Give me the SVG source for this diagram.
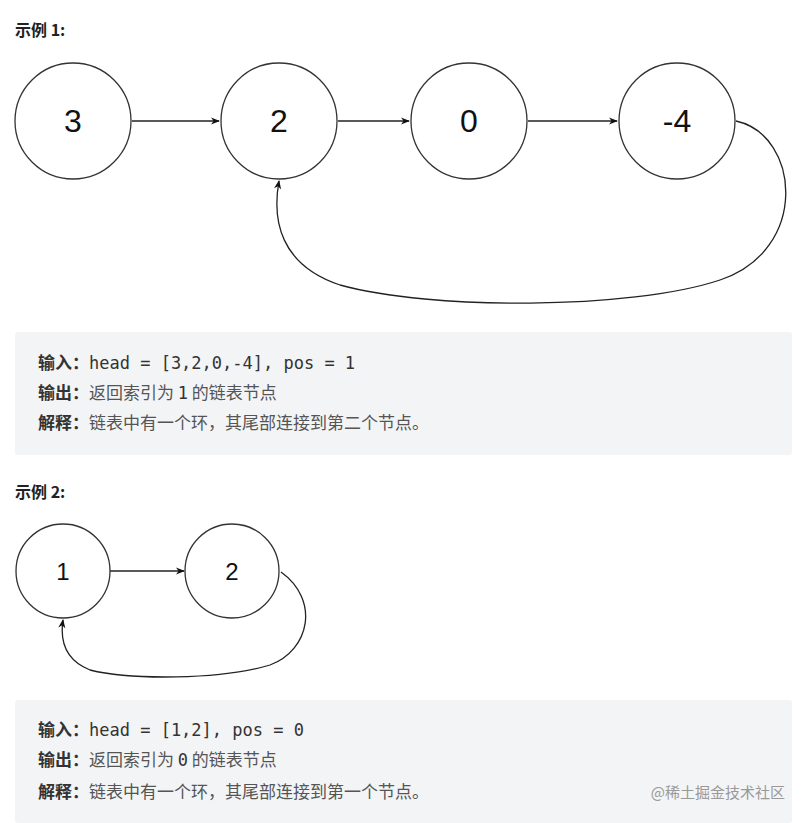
<svg xmlns="http://www.w3.org/2000/svg" width="808" height="823" viewBox="0 0 808 823">
<defs>
<style>
.n{fill:#fff;stroke:#333;stroke-width:1.3}
.big{font-family:"Liberation Sans",Arial,sans-serif;font-size:32px;fill:#111;text-anchor:middle}
.mid{font-family:"Liberation Sans",Arial,sans-serif;font-size:24px;fill:#111;text-anchor:middle}
.e{fill:none;stroke:#222;stroke-width:1.3}
.h{font-family:"Noto Sans CJK SC",sans-serif;font-size:16px;font-weight:bold;fill:#222}
.t{font-family:"Noto Sans CJK SC",serif;font-size:17px;fill:#555}
.b{font-weight:bold;fill:#333}
.m{font-family:"DejaVu Sans Mono","Liberation Mono",monospace;font-size:17px;fill:#333}
.box{fill:#f3f4f6}
</style>
<marker id="a" viewBox="0 0 10 10" refX="9" refY="5" markerWidth="9" markerHeight="9" orient="auto" markerUnits="userSpaceOnUse"><path d="M0,1 L10,5 L0,9 L3,5Z" fill="#111"/></marker>
</defs>
<rect width="808" height="823" fill="#fff"/>
<text class="h" x="15" y="36">示例 1:</text>
<g id="connectors">
<line class="e" x1="132" y1="121" x2="219" y2="121" marker-end="url(#a)"/>
<line class="e" x1="338" y1="121" x2="409" y2="121" marker-end="url(#a)"/>
<line class="e" x1="528" y1="121" x2="617" y2="121" marker-end="url(#a)"/>
<path class="e" d="M736,121 C800,135 810,250 720,280 C630,310 430,310 340,285 C280,265 272,220 279,181" marker-end="url(#a)"/>
<line class="e" x1="110" y1="571" x2="184" y2="571" marker-end="url(#a)"/>
<path class="e" d="M281,572 C320,600 310,650 270,665 C220,680 130,680 90,670 C65,660 60,640 63,620" marker-end="url(#a)"/>
</g>
<g id="n3"><circle class="n" cx="73" cy="121" r="58"/><text class="big" x="73" y="132">3</text></g>
<g id="n2"><circle class="n" cx="279" cy="121" r="58"/><text class="big" x="279" y="132">2</text></g>
<g id="n0"><circle class="n" cx="469" cy="121" r="58"/><text class="big" x="469" y="132">0</text></g>
<g id="n-4"><circle class="n" cx="677" cy="121" r="58"/><text class="big" x="677" y="132">-4</text></g>
<rect class="box" x="15" y="332" width="777" height="123" rx="3"/>
<text x="38" y="369"><tspan class="t b">输入：</tspan><tspan class="m">head = [3,2,0,-4], pos = 1</tspan></text>
<text x="38" y="399"><tspan class="t b">输出：</tspan><tspan class="t">返回索引为 </tspan><tspan class="m">1</tspan><tspan class="t"> 的链表节点</tspan></text>
<text x="38" y="429"><tspan class="t b">解释：</tspan><tspan class="t">链表中有一个环，其尾部连接到第二个节点。</tspan></text>
<text class="h" x="15" y="498">示例 2:</text>
<g id="m1"><circle class="n" cx="63" cy="571" r="47"/><text class="mid" x="63" y="580">1</text></g>
<g id="m2"><circle class="n" cx="232" cy="571" r="47"/><text class="mid" x="232" y="580">2</text></g>
<rect class="box" x="15" y="700" width="777" height="123" rx="3"/>
<text x="38" y="736"><tspan class="t b">输入：</tspan><tspan class="m">head = [1,2], pos = 0</tspan></text>
<text x="38" y="766"><tspan class="t b">输出：</tspan><tspan class="t">返回索引为 </tspan><tspan class="m">0</tspan><tspan class="t"> 的链表节点</tspan></text>
<text x="38" y="798"><tspan class="t b">解释：</tspan><tspan class="t">链表中有一个环，其尾部连接到第一个节点。</tspan></text>
<text x="785" y="798" text-anchor="end" font-family="Noto Sans CJK SC,sans-serif" font-size="15" fill="#999">@稀土掘金技术社区</text>
</svg>
